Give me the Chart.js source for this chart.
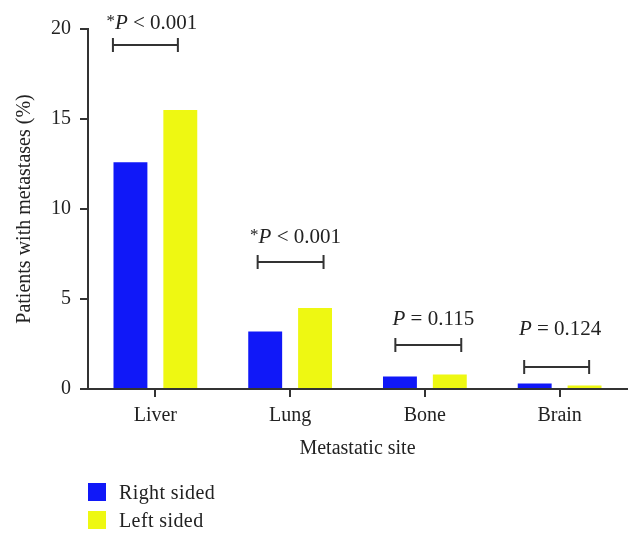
<!DOCTYPE html>
<html>
<head>
<meta charset="utf-8">
<script src="https://cdn.jsdelivr.net/npm/chart.js@4/dist/chart.umd.min.js"></script>
<style>
  body { margin: 0; background: #fff; }
  #wrap { position: relative; width: 642px; height: 542px; }
  .leg { position: absolute; left: 88px; font: 20px "Liberation Serif", "DejaVu Serif", serif; letter-spacing: 0.4px; color: #222; }
  .leg span { display: inline-block; width: 18px; height: 18px; vertical-align: middle; margin-right: 13px; }
  .leg b { font-weight: normal; vertical-align: middle; }
</style>
</head>
<body>
<div id="wrap">
  <canvas id="grafico" width="642" height="542"></canvas>
  <div class="leg" style="top:479px"><span style="background:#1018f8"></span><b>Right sided</b></div>
  <div class="leg" style="top:507px"><span style="background:#eef812"></span><b>Left sided</b></div>
</div>
<script>
// Dados
const sites = ['Liver', 'Lung', 'Bone', 'Brain'];
const rightSided = [12.6, 3.2, 0.7, 0.3];
const leftSided = [15.5, 4.5, 0.8, 0.2];

// Anotações de p-valor (em unidades de categoria / valor)
const pLabels = ['*P < 0.001', '*P < 0.001', 'P = 0.115', 'P = 0.124'];
const bracketStart = [-0.315, 0.759, 1.781, 2.737];
const bracketEnd = [0.167, 1.248, 2.270, 3.219];
const bracketY = [19.1, 7.05, 2.45, 1.22];
const labelX = [-0.026, 1.04, 2.063, 3.004];
const labelY = [20.3, 8.4, 3.85, 3.3];

const SERIF = '"Liberation Serif", "DejaVu Serif", serif';
const INK = '#333';

// Plugin para desenhar colchetes e textos
const pValores = {
  id: 'pValores',
  afterDatasetsDraw(chart) {
    const { ctx, scales: { x, y } } = chart;
    ctx.save();
    ctx.strokeStyle = INK;
    ctx.lineWidth = 2;
    pLabels.forEach((txt, i) => {
      const x1 = x.getPixelForValue(bracketStart[i]);
      const x2 = x.getPixelForValue(bracketEnd[i]);
      const yb = Math.round(y.getPixelForValue(bracketY[i]));
      ctx.beginPath();
      ctx.moveTo(x1, yb); ctx.lineTo(x2, yb);
      ctx.moveTo(x1, yb - 7); ctx.lineTo(x1, yb + 7);
      ctx.moveTo(x2, yb - 7); ctx.lineTo(x2, yb + 7);
      ctx.stroke();

      // partes: asterisco, P itálico, resto
      const star = txt.startsWith('*');
      const rest = txt.replace('*', '').slice(1);
      const fStar = `17px ${SERIF}`, fP = `italic 21px ${SERIF}`, fR = `21px ${SERIF}`;
      ctx.font = fStar; const wS = star ? ctx.measureText('*').width : 0;
      ctx.font = fP; const wP = ctx.measureText('P').width;
      ctx.font = fR; const wR = ctx.measureText(rest).width;
      let cx = x.getPixelForValue(labelX[i]) - (wS + wP + wR) / 2;
      const cy = y.getPixelForValue(labelY[i]);
      ctx.fillStyle = '#222';
      ctx.textBaseline = 'middle';
      ctx.textAlign = 'left';
      if (star) { ctx.font = fStar; ctx.fillText('*', cx, cy - 2); cx += wS; }
      ctx.font = fP; ctx.fillText('P', cx, cy); cx += wP;
      ctx.font = fR; ctx.fillText(rest, cx, cy);
    });
    ctx.restore();
  }
};

new Chart(document.getElementById('grafico').getContext('2d'), {
  type: 'bar',
  data: {
    labels: sites,
    datasets: [
      { label: 'Right sided', data: rightSided, backgroundColor: '#1018f8' },
      { label: 'Left sided', data: leftSided, backgroundColor: '#eef812' }
    ]
  },
  options: {
    responsive: false,
    animation: false,
    categoryPercentage: 0.74,
    barPercentage: 0.68,
    layout: { padding: { left: 0, top: 29, right: 15, bottom: 73 } },
    plugins: { legend: { display: false }, tooltip: { enabled: false } },
    scales: {
      x: {
        afterFit: s => { s.height = 80; },
        grid: { offset: false, drawOnChartArea: false, tickLength: 8, lineWidth: 2, color: INK },
        border: { color: INK, width: 2 },
        ticks: { color: '#222', padding: 7, font: { family: SERIF, size: 20 } },
        title: { display: true, text: 'Metastatic site', color: '#222', padding: { top: 0, bottom: 8 }, font: { family: SERIF, size: 20 } }
      },
      y: {
        min: 0, max: 20,
        afterFit: s => { s.width = 88; },
        grid: { drawOnChartArea: false, tickLength: 8, lineWidth: 2, color: INK },
        border: { color: INK, width: 2 },
        ticks: { stepSize: 5, color: '#222', padding: 9, font: { family: SERIF, size: 20 } },
        title: { display: true, text: 'Patients with metastases (%)', color: '#222', padding: { top: 13, bottom: 0 }, font: { family: SERIF, size: 20 } }
      }
    }
  },
  plugins: [pValores]
});
</script>
</body>
</html>
